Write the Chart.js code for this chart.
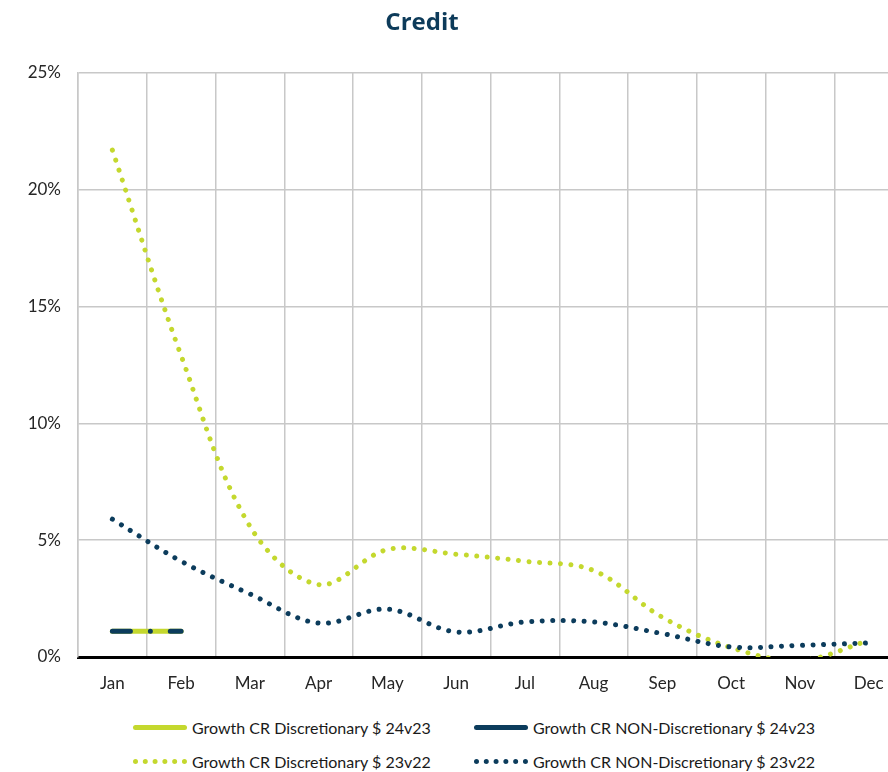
<!DOCTYPE html>
<html lang="en">
<head>
  <meta charset="UTF-8">
  <title>Credit</title>
  <script src="https://cdn.jsdelivr.net/npm/chart.js"></script>
  <style>
    html, body { margin: 0; padding: 0; background: #fff; overflow: hidden; }
    #wrap { position: relative; width: 910px; height: 772px; font-family: Lato, sans-serif; }
    #title { position: absolute; left: 0; top: 4px; width: 844px; text-align: center;
             font: 700 24px 'Open Sans', sans-serif; color: #0d3b5a; }
    #chartBox { position: absolute; left: 0; top: 0; width: 910px; height: 705px; }
    .leg { position: absolute; display: flex; align-items: center; height: 20px;
           font-size: 16px; color: #1a1a1a; white-space: nowrap; }
    .sw { width: 54px; margin-right: 5px; }
    .sw.solid { height: 5px; border-radius: 3px; }
    .sw.dots { height: 0; border-top: 5px dotted; }
  </style>
</head>
<body>
  <div id="wrap">
    <div id="chartBox"><canvas id="creditChart" width="910" height="705"></canvas></div>
    <div id="title">Credit</div>
    <div class="leg" style="left:133px; top:717px"><span class="sw solid" style="background:#c4d82e"></span>Growth CR Discretionary $ 24v23</div>
    <div class="leg" style="left:474px; top:717px"><span class="sw solid" style="background:#0c3c5c"></span>Growth CR NON-Discretionary $ 24v23</div>
    <div class="leg" style="left:133px; top:751px"><span class="sw dots" style="border-color:#c4d82e"></span>Growth CR Discretionary $ 23v22</div>
    <div class="leg" style="left:474px; top:751px"><span class="sw dots" style="border-color:#0c3c5c"></span>Growth CR NON-Discretionary $ 23v22</div>
  </div>

  <script>
    // values, in %
    const months = ['Jan', 'Feb', 'Mar', 'Apr', 'May', 'Jun', 'Jul', 'Aug', 'Sep', 'Oct', 'Nov', 'Dec'];
    const disc2423 = [1.1, 1.1, null, null, null, null, null, null, null, null, null, null];
    const nonDisc2423 = [1.1, 1.1, null, null, null, null, null, null, null, null, null, null];
    const disc2322 = [21.7, 12.9, 5.6, 3.1, 4.6, 4.4, 4.1, 3.7, 1.7, 0.4, -0.15, 0.7];
    const nonDisc2322 = [5.9, 4.1, 2.7, 1.45, 2.05, 1.07, 1.5, 1.5, 1.0, 0.43, 0.5, 0.6];
    const yTicks = [0, 5, 10, 15, 20, 25];

    const GREEN = '#c4d82e';
    const NAVY = '#0c3c5c';
    const GRID = '#c8c8c8';

    Chart.defaults.font.family = 'Lato, sans-serif';
    Chart.defaults.color = '#262626';

    const dotted = { borderDash: [0.01, 10.5], borderCapStyle: 'round', borderWidth: 5 };

    const ctx = document.getElementById('creditChart').getContext('2d');
    new Chart(ctx, {
      type: 'line',
      data: {
        labels: months,
        datasets: [
          Object.assign({ label: 'Growth CR NON-Discretionary $ 23v22', data: nonDisc2322, borderColor: NAVY }, dotted),
          Object.assign({ label: 'Growth CR Discretionary $ 23v22', data: disc2322, borderColor: GREEN }, dotted),
          { label: 'Growth CR NON-Discretionary $ 24v23', data: nonDisc2423, borderColor: NAVY,
            borderWidth: 5, borderCapStyle: 'round', borderDash: [18, 20, 0.01, 20, 60] },
          { label: 'Growth CR Discretionary $ 24v23', data: disc2423, borderColor: GREEN,
            borderWidth: 5, borderCapStyle: 'round' }
        ]
      },
      options: {
        responsive: false,
        animation: false,
        layout: { padding: { top: 73, right: 7, left: 0, bottom: 0 } },
        elements: {
          point: { radius: 0, hoverRadius: 0 },
          line: { tension: 0.35, capBezierPoints: false, fill: false }
        },
        datasets: { line: { clip: { left: 10, right: 10, top: 10, bottom: 0 } } },
        plugins: {
          legend: { display: false },
          title: { display: false },
          tooltip: { enabled: false }
        },
        scales: {
          x: {
            offset: true,
            grid: { offset: true, color: GRID, lineWidth: 1.5, drawTicks: false },
            border: { color: '#000', width: 3 },
            ticks: { font: { size: 17 }, padding: 16, maxRotation: 0 },
            afterFit: (axis) => { axis.height = 48; }
          },
          y: {
            min: 0,
            max: 25,
            afterBuildTicks: (axis) => { axis.ticks = yTicks.map(v => ({ value: v })); },
            grid: { color: GRID, lineWidth: 1.5, drawTicks: false },
            border: { color: GRID, width: 1.5 },
            ticks: { font: { size: 17 }, padding: 17, callback: (v) => v + '%' },
            afterFit: (axis) => { axis.width = 78; }
          }
        }
      }
    });
  </script>
</body>
</html>
